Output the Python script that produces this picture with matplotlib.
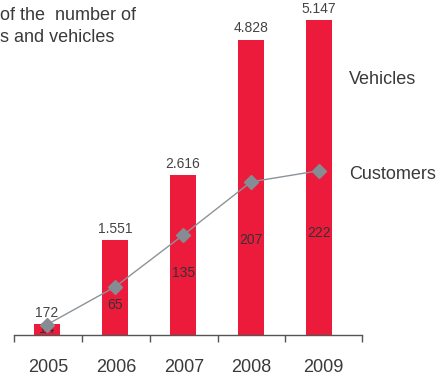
import matplotlib
matplotlib.use("Agg")
import matplotlib.pyplot as plt
import numpy as np

years = ["2005", "2006", "2007", "2008", "2009"]
vehicles = [172, 1551, 2616, 4828, 5147]
customers = [14, 65, 135, 207, 222]
vehicle_labels = ["172", "1.551", "2.616", "4.828", "5.147"]

plt.rcParams['font.family'] = ['Liberation Sans', 'DejaVu Sans']

W, H = 439, 381
fig = plt.figure(figsize=(W / 100, H / 100), dpi=100)
ax_left, ax_right, ax_base, ax_top = 14, 362, 335, 0
ax = fig.add_axes([ax_left / W, 1 - ax_base / H, (ax_right - ax_left) / W, (ax_base - ax_top) / H])

red = '#ED1B3B'
gray_line = '#8C9399'
text_col = '#3a3a3a'

x = np.arange(len(years))
ax.bar(x, vehicles, width=26 / 68, color=red, zorder=1)
ax.set_xlim(-0.485, 4.63)
ax.set_ylim(0, 5147 * 335 / 315)

for xi, v, lab in zip(x, vehicles, vehicle_labels):
    ax.annotate(lab, (xi, v), xytext=(0, 3), textcoords='offset points',
                ha='center', va='bottom', fontsize=10, color='#444444')

ax2 = ax.twinx()
ax2.set_ylim(0, 335 / 0.74)
ax2.plot(x, customers, color=gray_line, lw=1, marker='D', markersize=7,
         markerfacecolor='#858C93', markeredgecolor='#858C93', zorder=3)
for xi, c in zip(x, customers):
    ax2.text(xi, c * 0.62, str(c), ha='center', va='center', fontsize=10,
             color='#333333', zorder=2)

for a in (ax, ax2):
    for s in ['top', 'right', 'left']:
        a.spines[s].set_visible(False)
    a.set_yticks([])
ax2.spines['bottom'].set_visible(False)
ax.spines['bottom'].set_color('#555555')
ax.spines['bottom'].set_linewidth(1)

ticks = [-0.485, 0.515, 1.515, 2.515, 3.5, 4.63]
ax.set_xticks(ticks)
ax.set_xticklabels([])
ax.tick_params(axis='x', direction='out', length=5, color='#555555', width=1)

mids = [(a + b) / 2 for a, b in zip(ticks[:-1], ticks[1:])]
for m, y in zip(mids, years):
    ax.text(m, -(367 - 335) / 335, y, transform=ax.get_xaxis_transform(),
            ha='center', va='center', fontsize=13, color=text_col)

fig.text(0 / W, 1 - 15 / H, "of the  number of", fontsize=13, color=text_col,
         ha='left', va='center')
fig.text(0 / W, 1 - 37 / H, "s and vehicles", fontsize=13, color=text_col,
         ha='left', va='center')
fig.text(349 / W, 1 - 80 / H, "Vehicles", fontsize=13, color=text_col, ha='left', va='center')
fig.text(349 / W, 1 - 175 / H, "Customers", fontsize=13, color=text_col, ha='left', va='center')

fig.savefig("out.png", dpi=100)
